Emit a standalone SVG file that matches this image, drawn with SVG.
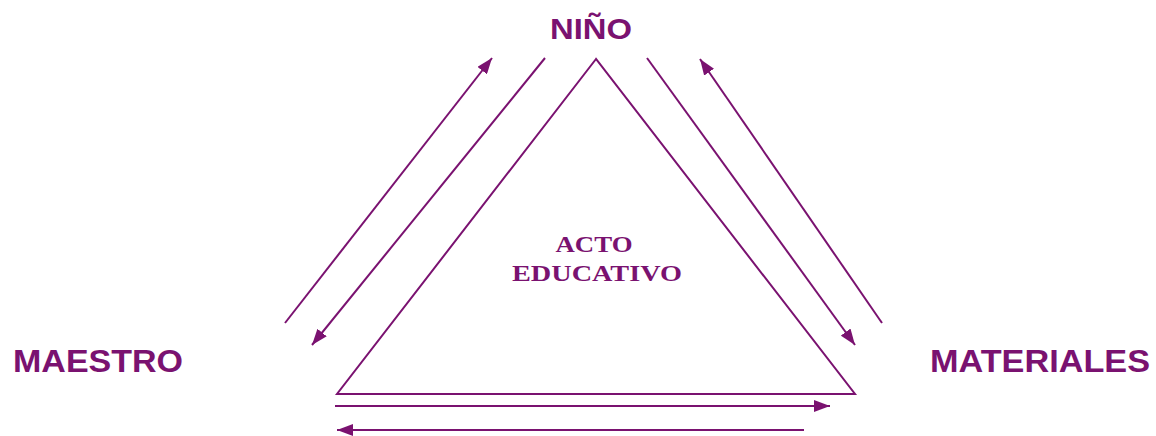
<svg xmlns="http://www.w3.org/2000/svg" width="1156" height="436" viewBox="0 0 1156 436">
<style>
.ln{stroke:#7a1270;stroke-width:2;fill:none}
.lbl{font-family:"Liberation Sans",Arial,sans-serif;font-weight:bold;fill:#7a1270}
.ctr{font-family:"Liberation Serif","Times New Roman",serif;font-weight:bold;fill:#7a1270}
</style>
<defs>
<marker id="ah" viewBox="0 0 16 12" refX="16" refY="6" markerWidth="16" markerHeight="12" markerUnits="userSpaceOnUse" orient="auto">
<path d="M0,0 L16,6 L0,12 Z" fill="#7a1270"/>
</marker>
</defs>
<rect width="1156" height="436" fill="#fff"/>
<g id="acto-educativo">
<polygon class="ln" points="596,59 337,394 855,394"/>
<text class="ctr" x="594" y="252" font-size="22.5" text-anchor="middle" textLength="77" lengthAdjust="spacingAndGlyphs">ACTO</text>
<text class="ctr" x="597" y="281" font-size="22.5" text-anchor="middle" textLength="170" lengthAdjust="spacingAndGlyphs">EDUCATIVO</text>
</g>
<g id="nino">
<text class="lbl" x="591" y="39" font-size="30" text-anchor="middle" textLength="82" lengthAdjust="spacingAndGlyphs">NIÑO</text>
</g>
<g id="maestro">
<text class="lbl" x="13" y="372" font-size="32" textLength="170" lengthAdjust="spacingAndGlyphs">MAESTRO</text>
</g>
<g id="materiales">
<text class="lbl" x="930" y="372" font-size="32" textLength="220" lengthAdjust="spacingAndGlyphs">MATERIALES</text>
</g>
<g id="connectors">
<line class="ln" x1="285" y1="323" x2="492" y2="58" marker-end="url(#ah)"/>
<line class="ln" x1="545" y1="58" x2="312" y2="345" marker-end="url(#ah)"/>
<line class="ln" x1="647" y1="58" x2="855" y2="345" marker-end="url(#ah)"/>
<line class="ln" x1="882" y1="323" x2="700" y2="59" marker-end="url(#ah)"/>
<line class="ln" x1="335" y1="406" x2="830" y2="406" marker-end="url(#ah)"/>
<line class="ln" x1="804" y1="430" x2="337" y2="430" marker-end="url(#ah)"/>
</g>
</svg>
